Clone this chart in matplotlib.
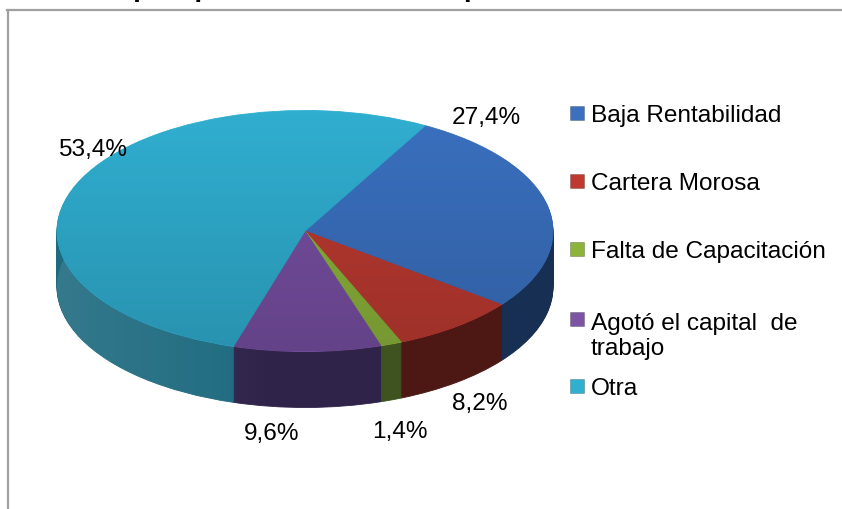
import numpy as np
import matplotlib
matplotlib.use("Agg")
import matplotlib.pyplot as plt
from matplotlib.patches import Rectangle, Ellipse
from matplotlib.lines import Line2D

# ---------------- data ----------------
categories = ["Baja Rentabilidad", "Cartera Morosa", "Falta de Capacitación",
              "Agotó el capital  de\ntrabajo", "Otra"]
values = [27.4, 8.2, 1.4, 9.6, 53.4]
pct_labels = ["27,4%", "8,2%", "1,4%", "9,6%", "53,4%"]
top_colors = ["#3a70bf", "#bb3a31", "#8cb33b", "#774fa2", "#30aed0"]
side_colors = ["#172f52", "#4d1714", "#3e5320", "#30234a", "#1e6a7f"]
legend_colors = ["#3d6fbf", "#c0392f", "#8db33a", "#7b55a4", "#2fb0cf"]
title_text = "Razón por qué cerró la microempresa"

# ---------------- layout ----------------
W, H = 842, 510
cx, cy = 305, 232          # pie centre (pixels from top)
rx, ry = 248, 120.5        # ellipse semi-axes (pixels)
depth = 56                 # side height (pixels)
startangle = 61
label_pos = [(486, 124), (480, 410), (400, 438), (272, 440), (93, 156)]  # (x, baseline)
legend_baselines = [122, 190, 258, 328, 395]
line_gap = 27
font = "Liberation Sans"

fig = plt.figure(figsize=(W / 100, H / 100), dpi=100)
ax = fig.add_axes([0, 0, 1, 1])
s = ry / rx
center = (cx, (H - cy) / s)

# side (extruded layers)
for d in np.arange(depth, 0, -1.0):
    ws, _ = ax.pie(values, colors=side_colors, startangle=startangle, counterclock=False,
                   radius=rx, center=(center[0], center[1] - d / s), frame=True,
                   wedgeprops=dict(linewidth=0.6, zorder=1))
    for w in ws:
        w.set_edgecolor(w.get_facecolor())

# top face
wedges, _ = ax.pie(values, colors=top_colors, startangle=startangle, counterclock=False,
                   radius=rx, center=center, frame=True,
                   wedgeprops=dict(linewidth=0.6, zorder=3))
for w in wedges:
    w.set_edgecolor(w.get_facecolor())

ax.set_aspect("auto")
ax.axis("off")

# subtle vertical gradient on the top face
grad = np.zeros((200, 2, 4))
grad[..., 3] = np.linspace(0.0, 0.16, 200)[:, None]
clip = Ellipse(center, 2 * rx, 2 * rx, transform=ax.transData)
im = ax.imshow(grad, extent=(center[0] - rx, center[0] + rx, center[1] - rx, center[1] + rx),
               origin="upper", aspect="auto", zorder=5, interpolation="bilinear")
im.set_clip_path(clip)

# horizontal shading on the side (lighter at the far left), below the top face
sgrad = np.zeros((2, 300, 4))
sgrad[..., :3] = 1.0
sgrad[..., 3] = np.clip(np.linspace(0.10, -0.12, 300), 0, None)[None, :]
side_clip = Ellipse((center[0], center[1] - depth / s), 2 * rx, 2 * rx, transform=ax.transData)
im2 = ax.imshow(sgrad, extent=(center[0] - rx, center[0] + rx,
                               center[1] - depth / s - rx, center[1]),
                origin="upper", aspect="auto", zorder=2, interpolation="bilinear")
im2.set_clip_path(side_clip)

ax.set_xlim(0, W)
ax.set_ylim(0, H / s)

# percentage labels
for txt, (x, yb) in zip(pct_labels, label_pos):
    fig.text(x / W, 1 - yb / H, txt, ha="center", va="baseline", fontsize=17.6,
             family=font, color="#000000")

# legend
for lab, col, yb in zip(categories, legend_colors, legend_baselines):
    fig.add_artist(Rectangle((570 / W, 1 - (yb - 1) / H), 14 / W, 14 / H,
                             transform=fig.transFigure, facecolor=col,
                             edgecolor="#00000040", linewidth=0.6))
    nlines = lab.count("\n")
    fig.text(591 / W, 1 - (yb + nlines * line_gap) / H, lab, ha="left", va="baseline",
             fontsize=17.6, family=font, color="#000000", linespacing=1.2)

# chart frame (partially cut off)
fig.add_artist(Line2D([7.5 / W, 7.5 / W], [0, 1 - 11 / H], transform=fig.transFigure,
                      color="#a0a0a0", linewidth=1.6))
fig.add_artist(Line2D([7 / W, 1], [1 - 11 / H, 1 - 11 / H], transform=fig.transFigure,
                      color="#a0a0a0", linewidth=1.6))

# title (mostly above the visible area, as in the reference)
fig.text(43 / W, 1 + 4 / H, title_text, ha="left", va="baseline", fontsize=19.8,
         fontweight="bold", family=font, color="#000000")

fig.savefig("out.png", dpi=100)
